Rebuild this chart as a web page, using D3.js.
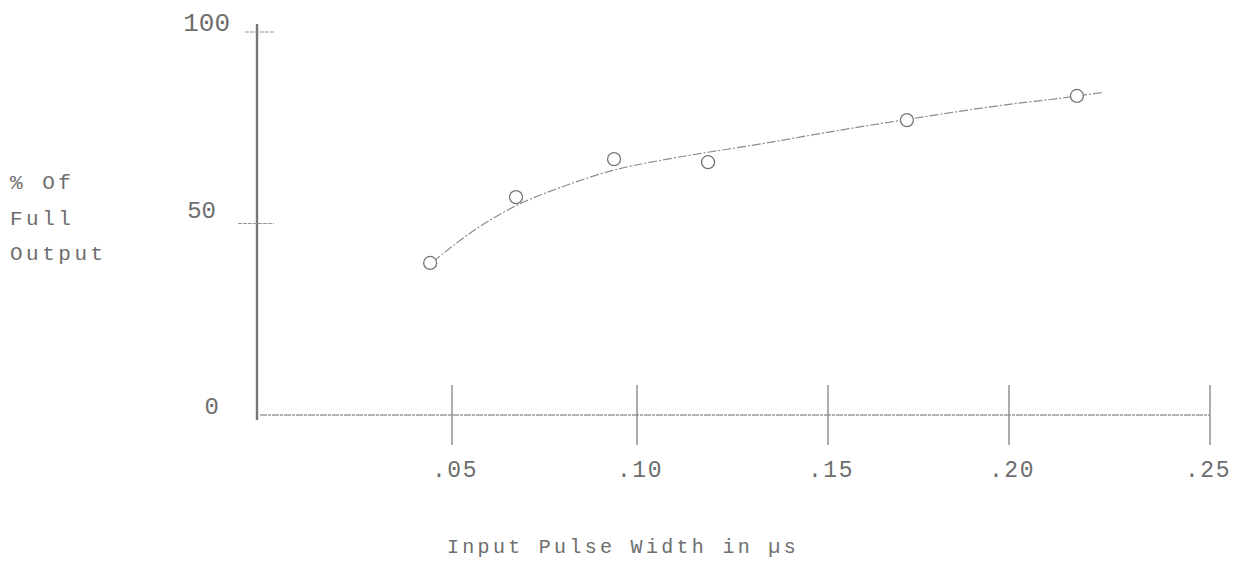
<!DOCTYPE html>
<html><head><meta charset="utf-8">
<script src="https://cdn.jsdelivr.net/npm/d3@7"></script>
<style>body{margin:0;background:#fff}svg{display:block}</style>
</head><body>
<svg id="c" width="1235" height="563"></svg>
<script>
// Data
const pulseWidth = [0.0444, 0.0673, 0.0938, 0.1186, 0.1718, 0.2169];   // µs
const pctOutput  = [39.7, 56.9, 66.8, 66.0, 77.0, 83.3];               // % of full output
// Smooth fitted curve drawn through the points
const curveX = [0.0451, 0.0564, 0.067, 0.081, 0.0932, 0.1079, 0.1186, 0.1288, 0.1561, 0.172, 0.1975, 0.2172, 0.2231];
const curveY = [40.0, 48.5, 54.5, 60.0, 63.8, 66.8, 68.6, 70.2, 74.8, 77.2, 80.8, 83.3, 84.2];
const xTicks = [0, 0.05, 0.10, 0.15, 0.20, 0.25];
const xTickLabels = ["", ".05", ".10", ".15", ".20", ".25"];
const yTicks = [0, 50, 100];
const yTitle = ["% Of", "Full", "Output"];
const xTitle = "Input Pulse Width in µs";

const svg = d3.select("#c");
// hand-ruled axis: tick spacing is slightly uneven on the original sheet
const x = d3.scaleLinear().domain(xTicks).range([257, 452, 637, 828, 1009, 1210]);
const y = d3.scaleLinear().domain([0, 100]).range([415, 32]);
const ink = "#6e6e6e";
const font = "'Liberation Mono', 'DejaVu Sans Mono', monospace";

// x axis baseline (faint, dashed typewriter line)
svg.append("line").attr("x1", x(0) + 3).attr("x2", x(0.25)).attr("y1", y(0)).attr("y2", y(0))
  .attr("stroke", "#9a9a9a").attr("stroke-width", 1.3).attr("stroke-dasharray", "7,1,3,1");
// x ticks
const xt = xTicks.filter(d => d > 0);
svg.selectAll(".xt").data(xt).join("line")
  .attr("x1", d => x(d)).attr("x2", d => x(d)).attr("y1", y(0) - 30).attr("y2", y(0) + 30)
  .attr("stroke", "#8a8a8a").attr("stroke-width", 1.4);
svg.selectAll(".xl").data(xt).join("text")
  .attr("x", d => Math.min(x(d) + 3, 1208)).attr("y", 477).attr("text-anchor", "middle")
  .attr("font-family", font).attr("font-size", 23).attr("letter-spacing", 1.5)
  .attr("fill", ink).text(d => xTickLabels[xTicks.indexOf(d)]);

// y axis
svg.append("line").attr("x1", x(0)).attr("x2", x(0)).attr("y1", y(100) - 8).attr("y2", y(0) + 5)
  .attr("stroke", "#777").attr("stroke-width", 2.4);
svg.selectAll(".yt").data(yTicks.filter(d => d > 0)).join("line")
  .attr("x1", d => x(0) - (d === 100 ? 12 : 19)).attr("x2", x(0) + 17).attr("y1", d => y(d)).attr("y2", d => y(d))
  .attr("stroke", "#999").attr("stroke-width", 1.2).attr("stroke-dasharray", "4,1");
svg.selectAll(".yl").data(yTicks).join("text")
  .attr("x", d => d === 100 ? 230 : (d === 50 ? 216 : 219))
  .attr("y", d => d === 50 ? 218 : y(d) - 1)
  .attr("text-anchor", "end")
  .attr("font-family", font).attr("font-size", d => d === 100 ? 26 : 24)
  .attr("fill", ink).text(d => d);

// y title
svg.selectAll(".ytl").data(yTitle).join("text")
  .attr("x", 10).attr("y", (d, i) => 189 + i * 35.5)
  .attr("font-family", font).attr("font-size", 21).attr("letter-spacing", 3.5)
  .attr("fill", ink).text(d => d);

// x title
svg.append("text").attr("x", 447).attr("y", 553)
  .attr("font-family", font).attr("font-size", 20).attr("letter-spacing", 3.3)
  .attr("fill", ink).text(xTitle);

// fitted curve
const pts = curveX.map((d, i) => [d, curveY[i]]);
svg.append("path").datum(pts)
  .attr("d", d3.line().x(d => x(d[0])).y(d => y(d[1])).curve(d3.curveMonotoneX))
  .attr("fill", "none").attr("stroke", "#8c8c8c").attr("stroke-width", 1.2)
  .attr("stroke-dasharray", "9,2,2,2");

// data circles
svg.selectAll(".pt").data(pulseWidth).join("circle")
  .attr("cx", d => x(d)).attr("cy", (d, i) => y(pctOutput[i]))
  .attr("r", 6.5).attr("fill", "#fff").attr("stroke", "#777").attr("stroke-width", 1.3);
</script>
</body></html>
